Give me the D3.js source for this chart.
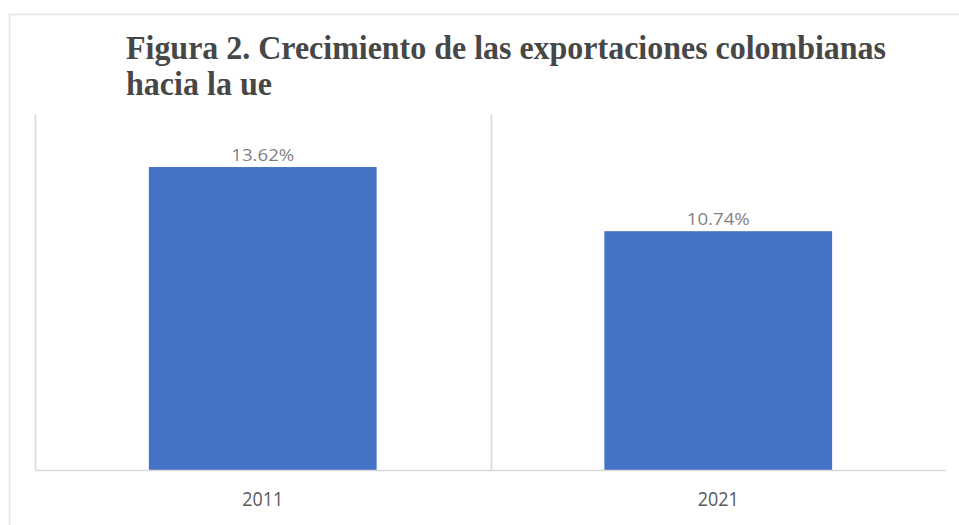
<!DOCTYPE html>
<html>
<head>
<meta charset="utf-8">
<script src="https://cdn.jsdelivr.net/npm/d3@7"></script>
<style>
  body { margin: 0; background: #fff; }
</style>
</head>
<body>
<div id="vis-container"></div>
<script>
// chart data
const years = ["2011", "2021"];
const growth = [13.62, 10.74];
const titleLines = ["Figura 2. Crecimiento de las exportaciones colombianas", "hacia la ue"];
const titleWidths = [760, 146];

const width = 959;
const height = 525;

// plot area in page coords
const plot = { left: 35, right: 946, top: 114, bottom: 470.5 };

const svg = d3.select('#vis-container').append('svg')
  .attr('width', width)
  .attr('height', height);

// outer frame (top and left edges visible)
svg.append('path')
  .attr('d', `M9.5 ${height} V14.5 H${width}`)
  .attr('fill', 'none')
  .attr('stroke', '#e3e3e3')
  .attr('stroke-width', 1.5);

// title
svg.append('g').selectAll('text')
  .data(titleLines)
  .join('text')
  .attr('x', 126)
  .attr('y', (d, i) => 59 + i * 36)
  .attr('font-family', '"Liberation Serif", "Times New Roman", serif')
  .attr('font-weight', 'bold')
  .attr('font-size', 33)
  .attr('fill', '#474747')
  .attr('textLength', (d, i) => titleWidths[i])
  .attr('lengthAdjust', 'spacingAndGlyphs')
  .text(d => d);

const x = d3.scaleBand()
  .domain(years)
  .range([plot.left, plot.right])
  .paddingInner(0)
  .paddingOuter(0);

const y = d3.scaleLinear()
  .domain([0, 16])
  .range([plot.bottom, plot.top]);

// vertical category gridlines
svg.append('g').selectAll('line')
  .data([plot.left, ...years.slice(1).map(d => x(d))])
  .join('line')
  .attr('x1', d => Math.round(d) + 0.5)
  .attr('x2', d => Math.round(d) + 0.5)
  .attr('y1', plot.top)
  .attr('y2', plot.bottom)
  .attr('stroke', '#d9d9d9')
  .attr('stroke-width', 1.5);

// bars (half of the band)
const barW = x.bandwidth() * 0.5;
svg.append('g').selectAll('rect')
  .data(years)
  .join('rect')
  .attr('x', d => x(d) + (x.bandwidth() - barW) / 2)
  .attr('y', (d, i) => y(growth[i]))
  .attr('width', barW)
  .attr('height', (d, i) => y(0) - y(growth[i]))
  .attr('fill', '#4472c4');

// value labels
svg.append('g').selectAll('text')
  .data(years)
  .join('text')
  .attr('x', d => x(d) + x.bandwidth() / 2 - 31.5)
  .attr('y', (d, i) => y(growth[i]) - 6)
  .attr('font-family', '"Open Sans", sans-serif')
  .attr('font-size', 17)
  .attr('fill', '#7f7f7f')
  .attr('textLength', 63)
  .attr('lengthAdjust', 'spacingAndGlyphs')
  .text((d, i) => growth[i].toFixed(2) + '%');

// x axis baseline
const xAxisG = svg.append('g')
  .attr('transform', `translate(0 ${plot.bottom})`)
  .call(d3.axisBottom(x).tickSize(0).tickPadding(21));
xAxisG.select('.domain')
  .attr('stroke', '#d9d9d9')
  .attr('stroke-width', 1.5)
  .attr('d', `M${plot.left},0H${plot.right}`);
xAxisG.selectAll('text')
  .attr('font-family', '"Open Sans", sans-serif')
  .attr('font-size', 20)
  .attr('fill', '#595959')
  .attr('text-anchor', 'start')
  .attr('dx', -20.5)
  .attr('textLength', 41)
  .attr('lengthAdjust', 'spacingAndGlyphs');
</script>
</body>
</html>
